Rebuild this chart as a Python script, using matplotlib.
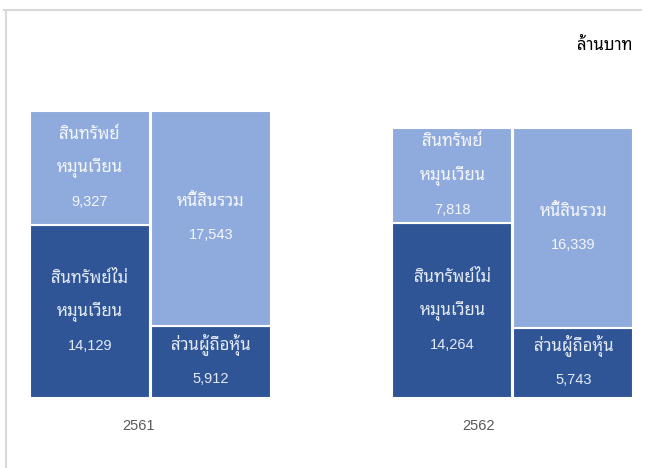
import matplotlib
matplotlib.use("Agg")
import matplotlib.pyplot as plt
import matplotlib.transforms as mtransforms
from matplotlib.lines import Line2D

plt.rcParams['font.family'] = ['Liberation Sans', 'Noto Sans Thai Looped', 'Sarabun', 'DejaVu Sans']

# balance sheet, million baht
years = ['2561', '2562']
current_assets = [9327, 7818]
noncurrent_assets = [14129, 14264]
liabilities = [17543, 16339]
equity = [5912, 5743]

lbl_current = 'สินทรัพย์\nหมุนเวียน'
lbl_noncurrent = 'สินทรัพย์ไม่\nหมุนเวียน'
lbl_liab = 'หนี้สินรวม'
lbl_equity = 'ส่วนผู้ถือหุ้น'
unit = 'ล้านบาท'

light = '#8faadc'
dark = '#2f5597'

fig = plt.figure(figsize=(6.51, 4.68), dpi=100)
ax = fig.add_axes([0, 70 / 468, 1, 398 / 468])
ax.set_xlim(-0.415, 1.381)
ax.set_ylim(0, 32530)
ax.axis('off')

w = 0.331
off = 0.1669
year_label_shift = [-0.033, -0.094]  # year labels sit left of group centres in the original


def seg_text(x, bottom, height, text, value, color):
    lines = text.split('\n') + ['{:,}'.format(value)]
    n = len(lines)
    for i, s in enumerate(lines):
        dy = ((n - 1) / 2 - i) * 24.5
        tr = mtransforms.offset_copy(ax.transData, fig=fig, x=0, y=dy, units='points')
        if i == n - 1:
            ax.text(x, bottom + height / 2, s, transform=tr, ha='center', va='center',
                    fontsize=10.5, color=color)
        else:
            ax.text(x, bottom + height / 2, s, transform=tr, ha='center', va='center',
                    fontsize=12, color=color, fontweight='light')


for i, yr in enumerate(years):
    xl = i - off
    xr = i + off
    ax.bar(xl, noncurrent_assets[i], width=w, color=dark, edgecolor='white', linewidth=1.5)
    ax.bar(xl, current_assets[i], width=w, bottom=noncurrent_assets[i], color=light,
           edgecolor='white', linewidth=1.5)
    ax.bar(xr, equity[i], width=w, color=dark, edgecolor='white', linewidth=1.5)
    ax.bar(xr, liabilities[i], width=w, bottom=equity[i], color=light,
           edgecolor='white', linewidth=1.5)

    seg_text(xl, 0, noncurrent_assets[i], lbl_noncurrent, noncurrent_assets[i], '#e4eaf5')
    seg_text(xl, noncurrent_assets[i], current_assets[i], lbl_current, current_assets[i], '#f4f6fb')
    seg_text(xr, 0, equity[i], lbl_equity, equity[i], '#e4eaf5')
    seg_text(xr, equity[i], liabilities[i], lbl_liab, liabilities[i], '#f4f6fb')

    ax.annotate(yr, (i + year_label_shift[i], 0), xytext=(0, -20.5), textcoords='offset points',
                ha='center', va='center', fontsize=10.5, color='#595959')

fig.text(632 / 651, 1 - 45 / 468, unit, ha='right', va='center', fontsize=12,
         color='black', fontweight='light')

# light frame
fig.add_artist(Line2D([4 / 651, 641 / 651], [1 - 9.5 / 468, 1 - 9.5 / 468],
                      transform=fig.transFigure, color='#d9d9d9', linewidth=1.5))
fig.add_artist(Line2D([5.5 / 651, 5.5 / 651], [1 - 9.5 / 468, 0],
                      transform=fig.transFigure, color='#d9d9d9', linewidth=1.5))

fig.savefig('out.png', dpi=100)
